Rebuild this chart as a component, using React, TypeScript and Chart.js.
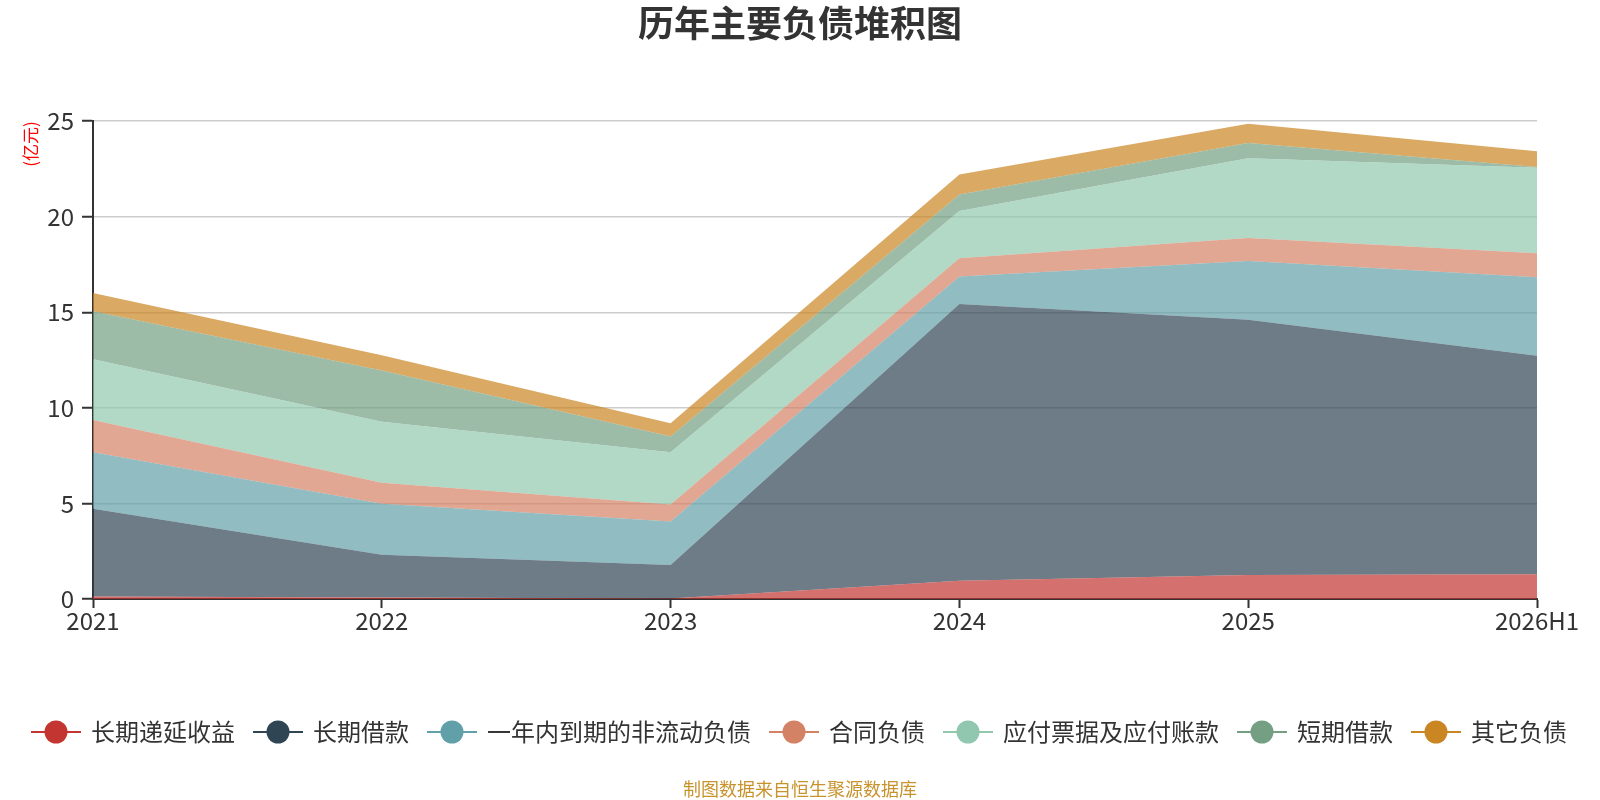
import { useEffect, useRef } from "react";
import Chart from "chart.js/auto";

const years = ["2021", "2022", "2023", "2024", "2025", "2026H1"];

// 单位: 亿元
const deferredIncome = [0.13, 0.08, 0.03, 0.96, 1.25, 1.3];
const longTermLoans = [4.59, 2.23, 1.75, 14.48, 13.36, 11.43];
const currentNonCurrent = [2.96, 2.68, 2.28, 1.43, 3.08, 4.11];
const contractLiabilities = [1.68, 1.09, 0.88, 0.96, 1.2, 1.25];
const payables = [3.18, 3.19, 2.74, 2.47, 4.17, 4.47];
const shortTermLoans = [2.51, 2.69, 0.82, 0.87, 0.8, 0.05];
const otherLiabilities = [0.96, 0.79, 0.69, 1.04, 1.01, 0.82];

const yTicks = [0, 5, 10, 15, 20, 25];

const FONT = '"Noto Sans CJK SC", "Noto Sans", sans-serif';

const seriesList = [
  { name: "长期递延收益", data: deferredIncome, color: "#c23531" },
  { name: "长期借款", data: longTermLoans, color: "#2f4554" },
  { name: "一年内到期的非流动负债", data: currentNonCurrent, color: "#61a0a8" },
  { name: "合同负债", data: contractLiabilities, color: "#d48265" },
  { name: "应付票据及应付账款", data: payables, color: "#91c7ae" },
  { name: "短期借款", data: shortTermLoans, color: "#749f83" },
  { name: "其它负债", data: otherLiabilities, color: "#ca8622" },
];

const withAlpha = (hex: string, a: number) => {
  const n = parseInt(hex.slice(1), 16);
  return `rgba(${(n >> 16) & 255}, ${(n >> 8) & 255}, ${n & 255}, ${a})`;
};

// legend icon: line with a dot in the middle
const makeIcon = (color: string) => {
  const c = document.createElement("canvas");
  c.width = 50;
  c.height = 24;
  const ctx = c.getContext("2d")!;
  ctx.strokeStyle = color;
  ctx.lineWidth = 2;
  ctx.beginPath();
  ctx.moveTo(0, 12);
  ctx.lineTo(50, 12);
  ctx.stroke();
  ctx.fillStyle = color;
  ctx.beginPath();
  ctx.arc(25, 12, 11.5, 0, Math.PI * 2);
  ctx.fill();
  return c;
};

const App = () => {
  const canvasRef = useRef<HTMLCanvasElement | null>(null);

  useEffect(() => {
    if (!canvasRef.current) return;
    const icons = seriesList.map((s) => makeIcon(s.color));

    const chart = new Chart(canvasRef.current, {
      type: "line",
      data: {
        labels: years,
        datasets: seriesList.map((s, i) => ({
          label: s.name,
          data: s.data,
          backgroundColor: withAlpha(s.color, 0.7),
          borderColor: "rgba(0,0,0,0)",
          borderWidth: 0,
          pointRadius: 0,
          pointHoverRadius: 0,
          tension: 0,
          fill: i === 0 ? "origin" : "-1",
        })),
      },
      options: {
        animation: false,
        responsive: true,
        maintainAspectRatio: false,
        layout: { padding: 0 },
        plugins: {
          tooltip: { enabled: false },
          title: {
            display: true,
            text: "历年主要负债堆积图",
            color: "#333",
            font: { family: FONT, size: 36, weight: "bold", lineHeight: 1.2 },
            padding: { top: 2, bottom: 76 },
          },
          subtitle: {
            display: true,
            position: "bottom",
            text: "制图数据来自恒生聚源数据库",
            color: "#c8932c",
            font: { family: FONT, size: 18, lineHeight: 1 },
            padding: { top: 26, bottom: 2 },
          },
          legend: {
            position: "bottom",
            labels: {
              usePointStyle: true,
              pointStyleWidth: 46,
              boxHeight: 24,
              padding: 20,
              color: "#333",
              font: { family: FONT, size: 24 },
              generateLabels: (c) =>
                Chart.defaults.plugins.legend.labels
                  .generateLabels(c)
                  .map((item, i) => ({ ...item, pointStyle: icons[i] })),
            },
          },
        },
        scales: {
          x: {
            afterFit: (scale) => {
              scale.height = 101;
            },
            grid: {
              drawOnChartArea: false,
              drawTicks: true,
              tickLength: 9,
              tickColor: "#333",
              tickWidth: 2,
            },
            border: { color: "#333", width: 2 },
            ticks: {
              color: "#333",
              padding: -2,
              maxRotation: 0,
              font: { family: FONT, size: 24 },
            },
          },
          y: {
            stacked: true,
            min: yTicks[0],
            max: yTicks[yTicks.length - 1],
            afterFit: (scale) => {
              scale.width = 93;
            },
            afterBuildTicks: (scale) => {
              scale.ticks = yTicks.map((v) => ({ value: v }));
            },
            grid: {
              color: "#cccccc",
              lineWidth: 1.5,
              drawTicks: true,
              tickLength: 11,
              tickColor: "#333",
              tickWidth: 2,
            },
            border: { color: "#333", width: 2 },
            ticks: {
              color: "#333",
              padding: 8,
              font: { family: FONT, size: 24 },
            },
            title: {
              display: true,
              text: "(亿元)",
              align: "end",
              color: "red",
              font: { family: FONT, size: 17, lineHeight: 1.2 },
              padding: { top: 20, bottom: 0 },
            },
          },
          // empty right axis that only reserves the right margin
          yRight: {
            position: "right",
            afterFit: (scale) => {
              scale.width = 63;
            },
            grid: { display: false, drawTicks: false },
            border: { display: false },
            ticks: { display: false },
          },
        },
      },
    });

    return () => {
      chart.destroy();
    };
  }, []);

  return (
    <div
      style={{
        position: "fixed",
        left: 0,
        top: 0,
        width: 1600,
        height: 800,
        background: "#fff",
      }}
    >
      <canvas ref={canvasRef}></canvas>
    </div>
  );
};

export default App;
